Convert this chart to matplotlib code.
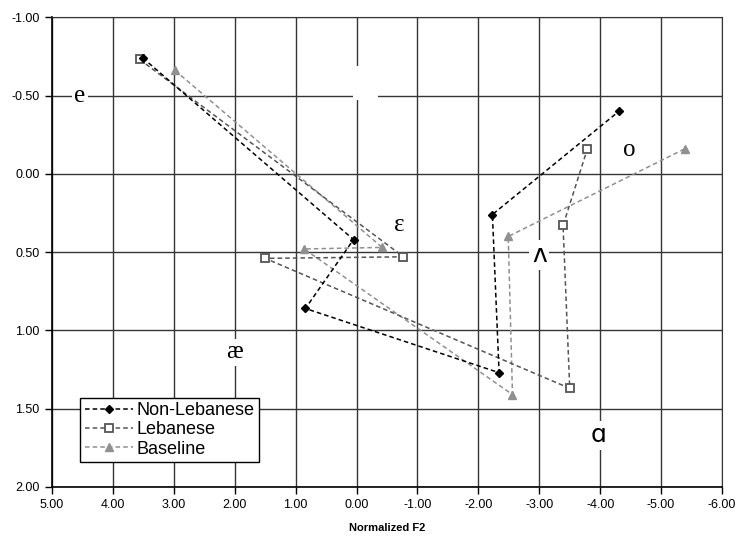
import numpy as np
import matplotlib.pyplot as plt

# Datos normalizados (F2, F1) por grupo
nonLebF2 = [3.51, 0.05, 0.84, -2.34, -2.23, -4.31]
nonLebF1 = [-0.74, 0.42, 0.86, 1.27, 0.26, -0.40]

lebF2 = [3.56, -0.77, 1.50, -3.50, -3.39, -3.79]
lebF1 = [-0.73, 0.53, 0.54, 1.37, 0.33, -0.16]

baseF2 = [2.98, -0.42, 0.86, -2.56, -2.49, -5.39]
baseF1 = [-0.66, 0.47, 0.48, 1.41, 0.40, -0.16]

# Etiquetas de vocales
vowels = ["e", "ɛ", "æ", "ʌ", "o", "ɑ"]
vowelF2 = [4.54, -0.70, 2.00, -3.00, -4.48, -3.98]
vowelF1 = [-0.50, 0.33, 1.14, 0.52, -0.15, 1.67]
vowelFont = ["Liberation Serif", "Liberation Serif", "Liberation Serif",
             "DejaVu Sans", "Liberation Serif", "DejaVu Sans"]

plt.rcParams['font.family'] = ['Liberation Sans', 'DejaVu Sans']

fig = plt.figure(figsize=(7.36, 5.38), dpi=100)
ax = fig.add_axes([0.0707, 0.0948, 0.9103, 0.8732])

#Grafica las tres series
ax.plot(nonLebF2, nonLebF1, linestyle=(0, (3, 2)), color="black", lw=1.1,
        marker="D", markersize=4.5, markerfacecolor="black", label="Non-Lebanese", zorder=4)
ax.plot(lebF2, lebF1, linestyle=(0, (3, 2)), color="#555555", lw=1.1,
        marker="s", markersize=5.5, markerfacecolor="white", markeredgecolor="#555555",
        markeredgewidth=1.3, label="Lebanese", zorder=3)
ax.plot(baseF2, baseF1, linestyle=(0, (3, 2)), color="#909090", lw=1.1,
        marker="^", markersize=6, markerfacecolor="#909090", markeredgecolor="#909090",
        label="Baseline", zorder=2)

#Etiquetas de las vocales con fondo blanco
for v, x, y, fam in zip(vowels, vowelF2, vowelF1, vowelFont):
    ax.text(x, y, v, fontsize=18, family=fam, ha="center", va="center", zorder=5,
            bbox=dict(facecolor="white", edgecolor="none", pad=2))
# caja en blanco
ax.text(-0.15, -0.58, "  ", fontsize=17, ha="center", va="center", zorder=5,
        bbox=dict(facecolor="white", edgecolor="none", pad=4))

ax.set_xlim(5, -6)
ax.set_ylim(2, -1)
ax.set_xticks(np.arange(5, -6.5, -1))
ax.set_yticks(np.arange(-1, 2.5, 0.5))
ax.xaxis.set_major_formatter(plt.FormatStrFormatter("%.2f"))
ax.yaxis.set_major_formatter(plt.FormatStrFormatter("%.2f"))
ax.tick_params(labelsize=9, direction="out", length=5, width=1, pad=4)
ax.grid(True, color="#353535", lw=1, zorder=0)
ax.set_axisbelow(True)
for s in ["top", "right"]:
    ax.spines[s].set_color("#353535")
for s in ["left", "bottom"]:
    ax.spines[s].set_color("black")
    ax.spines[s].set_linewidth(1.2)

ax.set_xlabel("Normalized F2", fontsize=8, fontweight="bold", labelpad=8)

leg = ax.legend(loc="lower left", bbox_to_anchor=(0.042, 0.053), borderaxespad=0,
                fontsize=13, fancybox=False, edgecolor="black", framealpha=1,
                handlelength=2.7, handletextpad=0.15, labelspacing=0.12,
                borderpad=0.25)
leg.get_frame().set_linewidth(1.0)

plt.savefig("out.png", dpi=100)
